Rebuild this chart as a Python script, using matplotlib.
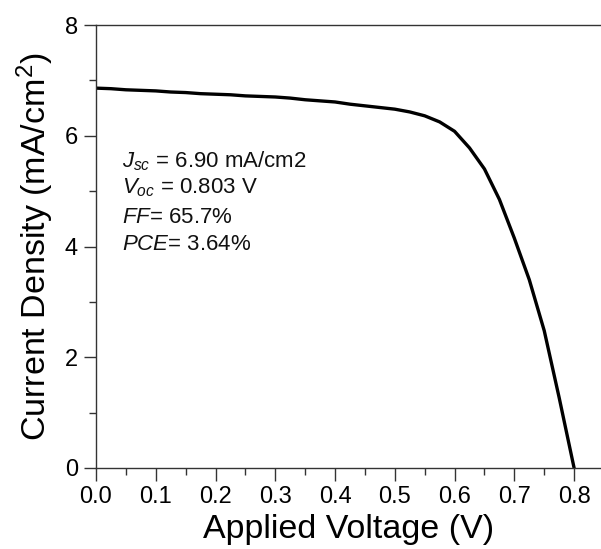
import matplotlib
matplotlib.use("Agg")
import matplotlib.pyplot as plt
from matplotlib.ticker import MultipleLocator

plt.rcParams['font.family'] = ['Liberation Sans', 'DejaVu Sans']
plt.rcParams['mathtext.fontset'] = 'custom'
plt.rcParams['mathtext.rm'] = 'Liberation Sans'
plt.rcParams['mathtext.it'] = 'Liberation Sans:italic'
plt.rcParams['mathtext.bf'] = 'Liberation Sans:bold'

voltage = [0.0, 0.025, 0.05, 0.075, 0.1, 0.125, 0.15, 0.175, 0.2, 0.225, 0.25,
           0.275, 0.3, 0.325, 0.35, 0.375, 0.4, 0.425, 0.45, 0.475, 0.5, 0.525,
           0.55, 0.575, 0.6, 0.625, 0.65, 0.675, 0.7, 0.725, 0.75, 0.775, 0.8]
current = [6.86, 6.85, 6.83, 6.82, 6.81, 6.79, 6.78, 6.76, 6.75, 6.74, 6.72,
           6.71, 6.70, 6.68, 6.65, 6.63, 6.61, 6.57, 6.54, 6.51, 6.48, 6.43,
           6.36, 6.25, 6.08, 5.78, 5.40, 4.85, 4.15, 3.40, 2.48, 1.27, 0.0]

labels = [r"$J_{sc}$ = 6.90 mA/cm2", r"$V_{oc}$ = 0.803 V",
          r"$FF$= 65.7%", r"$PCE$= 3.64%"]

fig = plt.figure(figsize=(6.01, 5.49), dpi=100)
ax = fig.add_axes([96/601, 1-468/549, 1-96/601, (468-25)/549])
ax.plot(voltage, current, color='black', lw=2.4)
ax.set_xlim(0, 0.845)
ax.set_ylim(0, 8)
ax.xaxis.set_major_locator(MultipleLocator(0.1))
ax.xaxis.set_minor_locator(MultipleLocator(0.05))
ax.yaxis.set_major_locator(MultipleLocator(2))
ax.yaxis.set_minor_locator(MultipleLocator(1))
ax.xaxis.set_major_formatter(plt.FuncFormatter(lambda v, p: f"{v:.1f}"))
ax.spines['right'].set_visible(False)
for s in ['left', 'bottom', 'top']:
    ax.spines[s].set_color('#333333')
    ax.spines[s].set_linewidth(1.0)
ax.tick_params(which='major', direction='out', length=9, width=1, color='#333333',
               labelsize=17, pad=4)
ax.tick_params(which='minor', direction='out', length=5, width=1, color='#333333')
ax.tick_params(top=False, right=False, which='both')
ax.set_xlabel("Applied Voltage (V)", fontsize=24.5, labelpad=4)
ax.set_ylabel(r"Current Density (mA/cm$^2$)", fontsize=24.5, labelpad=6)

ys = [5.42, 4.96, 4.43, 3.94]
for lab, y in zip(labels, ys):
    ax.text(0.0435, y, lab, fontsize=16, color='#111111', va='baseline')

fig.savefig("out.png", dpi=100)
